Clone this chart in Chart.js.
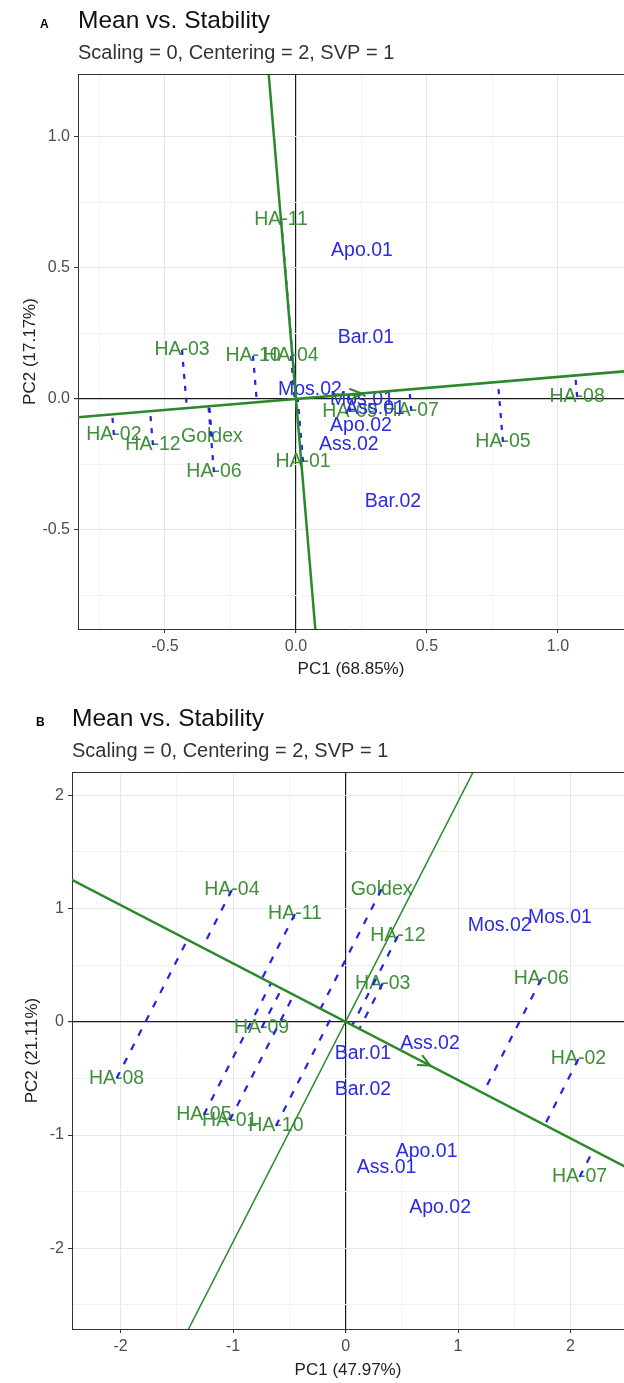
<!DOCTYPE html>
<html>
<head>
<meta charset="utf-8">
<script src="https://cdn.jsdelivr.net/npm/chart.js@4.4.1/dist/chart.umd.min.js"></script>
<style>
    html, body { margin: 0; padding: 0; background: #fff; overflow: hidden; }
    canvas { display: block; }
</style>
</head>
<body>
<canvas id="chartA" width="624" height="690"></canvas>
<canvas id="chartB" width="624" height="693"></canvas>
<script>
// ── PANEL A — genotypes (green) and environments (blue) ──
const genotypesA = ['HA-11', 'HA-03', 'HA-10', 'HA-04', 'HA-02', 'HA-12', 'Goldex', 'HA-06', 'HA-01', 'HA-09', 'HA-07', 'HA-05', 'HA-08'];
const genoAX = [-0.057, -0.435, -0.164, -0.019, -0.695, -0.546, -0.321, -0.313, 0.027, 0.206, 0.44, 0.790, 1.073];
const genoAY = [0.683, 0.187, 0.164, 0.164, -0.137, -0.176, -0.145, -0.279, -0.240, -0.050, -0.046, -0.164, 0.008];
const envsA = ['Apo.01', 'Bar.01', 'Mos.02', 'Mos.01', 'Ass.01', 'Apo.02', 'Ass.02', 'Bar.02'];
const envAX = [0.252, 0.267, 0.053, 0.252, 0.302, 0.248, 0.202, 0.370];
const envAY = [0.565, 0.233, 0.034, -0.004, -0.038, -0.103, -0.176, -0.393];
const meanEnvA = [0.25, 0.021];
const majorTicksA = [-0.5, 0, 0.5, 1.0];
const tickLabelsA = ['-0.5', '0.0', '0.5', '1.0'];
const gridXA = [-0.75, -0.5, -0.25, 0, 0.25, 0.5, 0.75, 1.0];
const gridYA = [-0.75, -0.5, -0.25, 0, 0.25, 0.5, 0.75, 1.0];

// ── PANEL B ──
const genotypesB = ['HA-04', 'HA-11', 'Goldex', 'HA-12', 'HA-03', 'HA-06', 'HA-09', 'HA-08', 'HA-02', 'HA-05', 'HA-01', 'HA-10', 'HA-07'];
const genoBX = [-1.011, -0.450, 0.320, 0.465, 0.330, 1.740, -0.747, -2.036, 2.070, -1.260, -1.030, -0.620, 2.080];
const genoBY = [1.162, 0.950, 1.170, 0.757, 0.340, 0.377, -0.056, -0.500, -0.330, -0.820, -0.870, -0.920, -1.370];
const envsB = ['Mos.02', 'Mos.01', 'Ass.02', 'Bar.01', 'Bar.02', 'Apo.01', 'Ass.01', 'Apo.02'];
const envBX = [1.370, 1.905, 0.750, 0.155, 0.155, 0.720, 0.365, 0.840];
const envBY = [0.845, 0.916, -0.190, -0.280, -0.600, -1.150, -1.290, -1.640];
const meanEnvB = [0.75, -0.386];
const majorTicksB = [-2, -1, 0, 1, 2];
const tickLabelsB = ['-2', '-1', '0', '1', '2'];
const gridXB = [-2, -1.5, -1, -0.5, 0, 0.5, 1, 1.5, 2];
const gridYB = [-2.5, -2, -1.5, -1, -0.5, 0, 0.5, 1, 1.5, 2];

const FONT = '"Liberation Sans", Arial, sans-serif';
const GREEN_LINE = '#2a8a2a';
const GREEN_TEXT = '#3f8f3a';
const BLUE = '#2b2bdf';

// text labels, arrow head, titles and top border
const biplotDecor = {
    id: 'biplotDecor',
    beforeDatasetsDraw(chart, args, o) {
        const {ctx, scales: {x, y}} = chart;
        ctx.save();
        ctx.font = '19.5px ' + FONT;
        ctx.textAlign = 'center';
        ctx.textBaseline = 'middle';
        o.groups.forEach(g => {
            ctx.fillStyle = g.color;
            g.names.forEach((n, i) => ctx.fillText(n, x.getPixelForValue(g.xs[i]), y.getPixelForValue(g.ys[i])));
        });
        ctx.restore();
    },
    afterDatasetsDraw(chart, args, o) {
        const {ctx, scales: {x, y}} = chart;
        const ox = x.getPixelForValue(0), oy = y.getPixelForValue(0);
        const px = x.getPixelForValue(o.arrow[0]), py = y.getPixelForValue(o.arrow[1]);
        const ang = Math.atan2(py - oy, px - ox);
        ctx.save();
        ctx.strokeStyle = GREEN_LINE;
        ctx.lineWidth = 2;
        ctx.beginPath();
        [-0.45, 0.45].forEach(d => {
            ctx.moveTo(px, py);
            ctx.lineTo(px - 13 * Math.cos(ang + d), py - 13 * Math.sin(ang + d));
        });
        ctx.stroke();
        ctx.restore();
    },
    afterDraw(chart, args, o) {
        const {ctx, chartArea: a} = chart;
        ctx.save();
        ctx.strokeStyle = '#333';
        ctx.lineWidth = 1;
        ctx.beginPath();
        ctx.moveTo(a.left, a.top + 0.5);
        ctx.lineTo(a.right, a.top + 0.5);
        ctx.stroke();
        ctx.textBaseline = 'middle';
        ctx.fillStyle = '#000';
        ctx.font = 'bold 12px ' + FONT;
        ctx.fillText(o.letter, o.letterX, o.letterY);
        ctx.font = '24.5px ' + FONT;
        ctx.fillStyle = '#111';
        ctx.fillText('Mean vs. Stability', a.left, o.titleY);
        ctx.font = '20px ' + FONT;
        ctx.fillStyle = '#333';
        ctx.fillText('Scaling = 0, Centering = 2, SVP = 1', a.left, o.titleY + 32);
        ctx.restore();
    }
};

function biplot(id, p) {
    const pts = (xs, ys) => xs.map((v, i) => ({x: v, y: ys[i]}));
    const [ax, ay] = p.meanEnv;
    const aa = ax * ax + ay * ay;
    const far = 20 / Math.sqrt(aa);
    const isMajor = v => p.majors.some(m => Math.abs(m - v) < 1e-9);

    // dashed projections of each genotype onto the ATC abscissa
    const dashed = p.gx.map((gx, i) => {
        const t = (gx * ax + p.gy[i] * ay) / aa;
        return {
            data: [{x: gx, y: p.gy[i]}, {x: t * ax, y: t * ay}],
            borderColor: '#2222e6', borderWidth: 2.2, borderDash: p.dash, pointRadius: 0, showLine: true
        };
    });

    const axisCfg = (min, max, grid, size, isX, title, titleCfg) => ({
        type: 'linear', min, max,
        afterBuildTicks: s => { s.ticks = grid.map(v => ({value: v})); },
        afterFit: s => { if (isX) s.height = size; else s.width = size; },
        grid: {
            color: c => c.tick.value === 0 ? '#1a1a1a' : (isMajor(c.tick.value) ? '#e6e6e6' : '#f2f2f2'),
            lineWidth: c => c.tick.value === 0 ? 1.2 : 1,
            tickColor: c => isMajor(c.tick.value) ? '#333' : 'rgba(0,0,0,0)',
            tickLength: 4, drawTicks: true
        },
        border: {display: true, color: '#333', width: 1},
        ticks: {
            color: '#4d4d4d', font: {family: FONT, size: 16}, padding: 4, autoSkip: false, maxRotation: 0,
            callback: v => {
                const k = p.majors.findIndex(m => Math.abs(m - v) < 1e-9);
                return k < 0 ? '' : p.tickLabels[k];
            }
        },
        title: Object.assign({display: true, text: title, color: '#222', font: {family: FONT, size: 17}}, titleCfg)
    });

    return new Chart(document.getElementById(id), {
        type: 'scatter',
        data: {
            datasets: [
                {data: pts(p.gx, p.gy), pointRadius: 0},
                {data: pts(p.ex, p.ey), pointRadius: 0},
                {data: [{x: -far * ax, y: -far * ay}, {x: far * ax, y: far * ay}], borderColor: GREEN_LINE, borderWidth: p.absW, pointRadius: 0, showLine: true},
                {data: [{x: far * ay, y: -far * ax}, {x: -far * ay, y: far * ax}], borderColor: GREEN_LINE, borderWidth: p.ordW, pointRadius: 0, showLine: true},
                ...dashed
            ]
        },
        options: {
            responsive: false, animation: false, events: [],
            layout: {padding: {top: p.top, left: 0, right: 0, bottom: 0}},
            plugins: {
                legend: {display: false}, tooltip: {enabled: false},
                biplotDecor: {
                    groups: [
                        {names: p.gNames, xs: p.gx, ys: p.gy, color: GREEN_TEXT},
                        {names: p.eNames, xs: p.ex, ys: p.ey, color: BLUE}
                    ],
                    arrow: p.meanEnv, letter: p.letter, letterX: p.letterX, letterY: p.letterY, titleY: p.titleY
                }
            },
            scales: {
                x: axisCfg(p.xr[0], p.xr[1], p.gridX, p.xAxisH, true, p.xTitle, {padding: {top: 2, bottom: p.xTitlePad}}),
                y: axisCfg(p.yr[0], p.yr[1], p.gridY, p.yAxisW, false, p.yTitle, {padding: {top: p.yTitlePad, bottom: 0}})
            }
        },
        plugins: [biplotDecor]
    });
}

biplot('chartA', {
    gNames: genotypesA, gx: genoAX, gy: genoAY,
    eNames: envsA, ex: envAX, ey: envAY,
    meanEnv: meanEnvA, majors: majorTicksA, tickLabels: tickLabelsA,
    gridX: gridXA, gridY: gridYA,
    xr: [-0.832, 1.252], yr: [-0.878, 1.24],
    top: 74, xAxisH: 61, yAxisW: 78, xTitlePad: 10, yTitlePad: 20,
    xTitle: 'PC1 (68.85%)', yTitle: 'PC2 (17.17%)',
    absW: 2.5, ordW: 2.5, dash: [5, 7],
    letter: 'A', letterX: 40, letterY: 25, titleY: 21
});

biplot('chartB', {
    gNames: genotypesB, gx: genoBX, gy: genoBY,
    eNames: envsB, ex: envBX, ey: envBY,
    meanEnv: meanEnvB, majors: majorTicksB, tickLabels: tickLabelsB,
    gridX: gridXB, gridY: gridYB,
    xr: [-2.432, 2.475], yr: [-2.712, 2.204],
    top: 82, xAxisH: 54, yAxisW: 72, xTitlePad: 2, yTitlePad: 22,
    xTitle: 'PC1 (47.97%)', yTitle: 'PC2 (21.11%)',
    absW: 2.5, ordW: 1.5, dash: [7, 9],
    letter: 'B', letterX: 36, letterY: 33, titleY: 29
});
</script>
</body>
</html>
